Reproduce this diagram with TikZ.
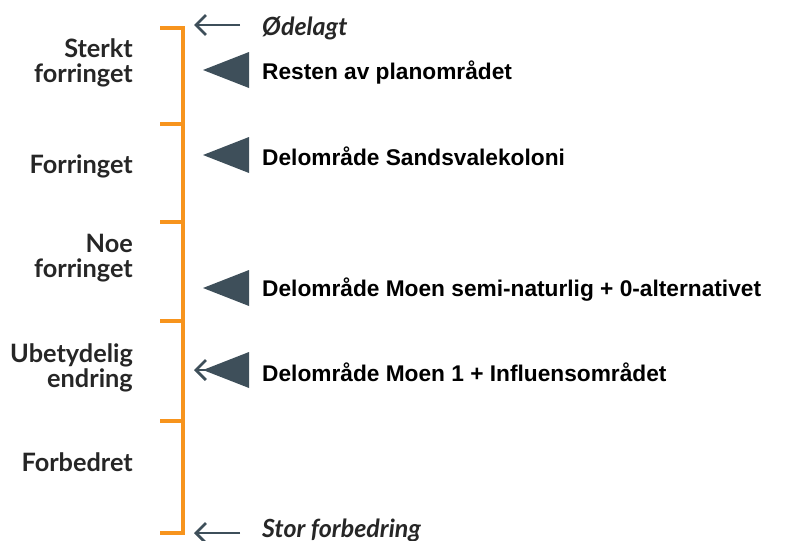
\documentclass[tikz,border=0pt]{standalone}
\usepackage{fontspec}
\setmainfont{Lato}
\newfontfamily\arialfont{Liberation Sans}
\usetikzlibrary{arrows.meta}
\definecolor{scaleorange}{HTML}{F7941D}
\definecolor{slate}{HTML}{3E4F5A}
\definecolor{labeltext}{HTML}{262626}
\tikzset{
  scaleline/.style={draw=scaleorange, line width=4pt},
  levellabel/.style={anchor=east, align=right, font=\fontsize{25.3}{25.5}\selectfont\bfseries, text=labeltext, inner sep=0pt},
  endlabel/.style={anchor=west, font=\fontsize{25}{28}\selectfont\bfseries\itshape, text=labeltext, inner sep=0pt},
  arealabel/.style={anchor=west, font=\arialfont\fontsize{22.7}{26}\selectfont\bfseries, text=black, inner sep=0pt},
  pointer/.style={fill=slate, draw=none},
  endarrow/.style={draw=slate, line width=2.8pt, -{Straight Barb[length=10pt,width=20pt,line width=2.8pt]}}
}
\begin{document}
\begin{tikzpicture}[x=1pt,y=-1pt]
  \useasboundingbox (0,0) rectangle (788,541);

  % scale with level ticks
  \coordinate (top) at (183,28);
  \coordinate (bot) at (183,533);
  \draw[scaleline] (160,28) -- (top) -- (bot) -- (160,533);
  \foreach \y/\n in {124/t1, 222/t2, 321/t3, 421/t4} {
    \coordinate (\n) at (183,\y);
    \draw[scaleline] (160,\y) -- (\n);
  }

  % level names
  \node[levellabel] (l1) at (133,63) {Sterkt\\forringet};
  \node[levellabel] (l2) at (133,166) {Forringet};
  \node[levellabel] (l3) at (133,258) {Noe\\forringet};
  \node[levellabel] (l4) at (133,368) {Ubetydelig\\endring};
  \node[levellabel] (l5) at (133,462) {Forbedret};

  % extremes of the scale
  \coordinate (a1s) at (240,25);
  \coordinate (a1e) at (194,25);
  \draw[endarrow] (a1s) -- (a1e);
  \node[endlabel] (e1) at (262,28) {Ødelagt};
  \coordinate (a2s) at (240,533);
  \coordinate (a2e) at (194,533);
  \draw[endarrow] (a2s) -- (a2e);
  \node[endlabel] (e2) at (262,530) {Stor forbedring};

  % assessed areas
  \coordinate (a3s) at (240,370);
  \coordinate (a3e) at (194,370);
  \draw[endarrow] (a3s) -- (a3e);
  \foreach \y/\n in {70/p1, 155/p2, 288/p3, 370/p4} {
    \fill[pointer] (203,\y) -- (249,\y-18) -- (249,\y+18) -- cycle;
    \coordinate (\n) at (249,\y);
  }
  \node[arealabel] (r1) at (262,73) {Resten av planområdet};
  \node[arealabel] (r2) at (262,156) {Delområde Sandsvalekoloni};
  \node[arealabel] (r3) at (262,290) {Delområde Moen semi-naturlig + 0-alternativet};
  \node[arealabel] (r4) at (262,372) {Delområde Moen 1 + Influensområdet};
\end{tikzpicture}
\end{document}
